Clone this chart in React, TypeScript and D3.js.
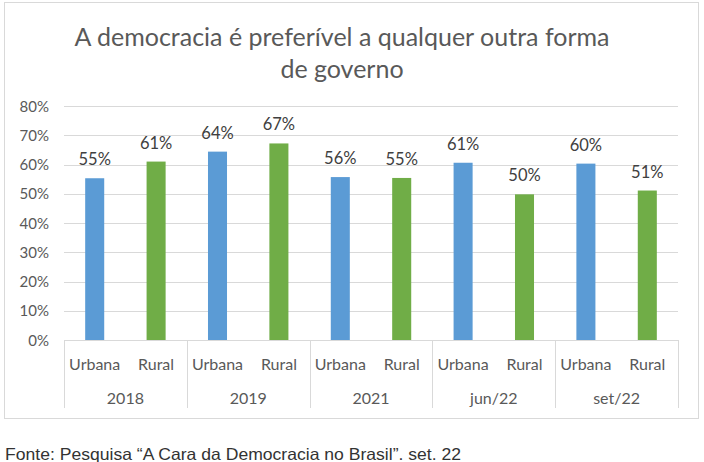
import React from "react";
import * as d3 from "d3";

const periods = ["2018", "2019", "2021", "jun/22", "set/22"];
const subgroups = ["Urbana", "Rural"];
const urbana = [55.3, 64.4, 55.7, 60.6, 60.3];
const rural = [61.0, 67.2, 55.4, 49.8, 51.1];
const yTicks = [0, 10, 20, 30, 40, 50, 60, 70, 80];
const titleLines = ["A democracia é preferível a qualquer outra forma", "de governo"];
const footnote = "Fonte: Pesquisa “A Cara da Democracia no Brasil”. set. 22";

const colors: Record<string, string> = { Urbana: "#5B9BD5", Rural: "#70AD47" };

export default function App() {
  const W = 704, H = 462;
  const left = 64, right = 678, top = 106, bottom = 340;
  const font = "Lato, 'Open Sans', sans-serif";

  const x0 = d3.scaleBand<string>().domain(periods).range([left, right]).paddingInner(0).paddingOuter(0);
  const x1 = d3.scaleBand<string>().domain(subgroups).range([0, x0.bandwidth()]).paddingInner(0).paddingOuter(0);
  const y = d3.scaleLinear().domain([0, 80]).range([bottom, top]);
  const barW = x1.bandwidth() * 0.31;

  const bars = periods.flatMap((p, i) => [
    { p, s: "Urbana", v: urbana[i] },
    { p, s: "Rural", v: rural[i] },
  ]);

  return (
    <div style={{ position: "absolute", left: 0, top: 0 }}>
      <svg width={W} height={H} style={{ display: "block", background: "#fff" }}>
        <rect x={4.5} y={2.5} width={694} height={416} fill="#fff" stroke="#d9d9d9" strokeWidth={1} />
        {titleLines.map((t, i) => (
          <text key={i} x={342} y={46 + i * 32} textAnchor="middle" fontFamily={font} fontSize={25} fill="#595959">
            {t}
          </text>
        ))}
        {yTicks.map((t) => (
          <g key={t}>
            {t > 0 && (
              <line x1={left} x2={right} y1={Math.round(y(t)) + 0.5} y2={Math.round(y(t)) + 0.5} stroke="#d9d9d9" strokeWidth={1} />
            )}
            <text x={49} y={y(t) + 5.5} textAnchor="end" fontFamily={font} fontSize={15} fill="#595959">
              {t}%
            </text>
          </g>
        ))}
        {bars.map((b, i) => {
          const cx = (x0(b.p) as number) + (x1(b.s) as number) + x1.bandwidth() / 2;
          return (
            <g key={i}>
              <rect x={cx - barW / 2} y={y(b.v)} width={barW} height={bottom - y(b.v)} fill={colors[b.s]} />
              <text x={cx} y={y(b.v) - 13} textAnchor="middle" fontFamily={font} fontSize={16.5} fill="#404040">
                {Math.round(b.v)}%
              </text>
            </g>
          );
        })}
        <line x1={left} x2={right} y1={bottom + 0.5} y2={bottom + 0.5} stroke="#d9d9d9" strokeWidth={1} />
        {[...periods.map((p) => x0(p) as number), right].map((xv, i) => (
          <line key={i} x1={Math.round(xv) + 0.5} x2={Math.round(xv) + 0.5} y1={bottom} y2={408} stroke="#d9d9d9" strokeWidth={1} />
        ))}
        {periods.map((p) => (
          <g key={p}>
            {subgroups.map((s) => (
              <text key={s} x={(x0(p) as number) + (x1(s) as number) + x1.bandwidth() / 2} y={370} textAnchor="middle" fontFamily={font} fontSize={16} fill="#595959">
                {s}
              </text>
            ))}
            <text x={(x0(p) as number) + x0.bandwidth() / 2} y={404} textAnchor="middle" fontFamily={font} fontSize={16} fill="#595959">
              {p}
            </text>
          </g>
        ))}
        <text x={5} y={460} fontFamily="'Liberation Sans', Arial, sans-serif" fontSize={16.5} fill="#333" textLength={456} lengthAdjust="spacingAndGlyphs">
          {footnote}
        </text>
      </svg>
    </div>
  );
}
